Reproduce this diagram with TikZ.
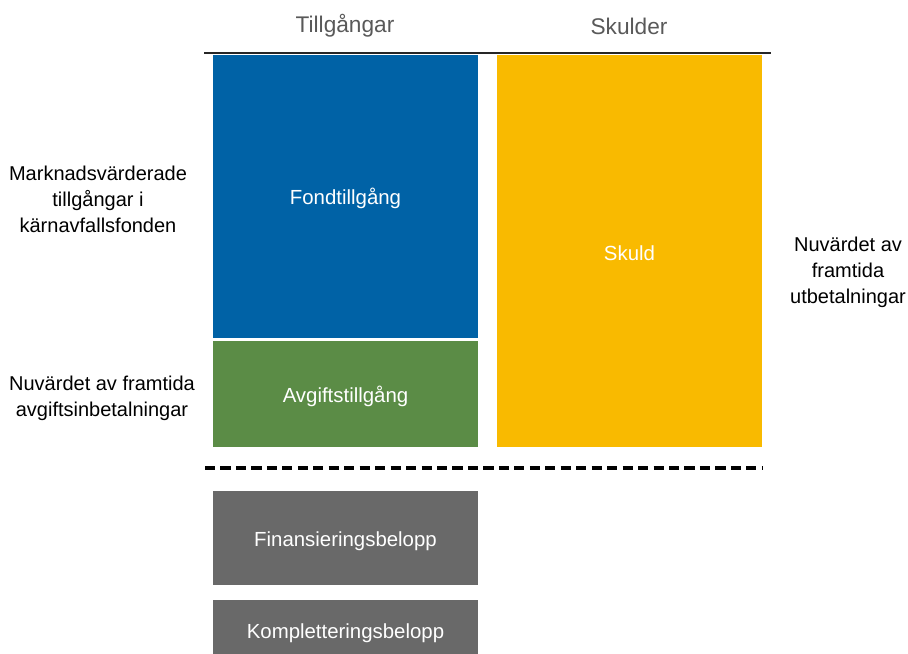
\documentclass[tikz,border=0pt]{standalone}
\usepackage{fontspec}
\setmainfont{Liberation Sans}
\definecolor{cblue}{RGB}{0,98,166}
\definecolor{cgreen}{RGB}{91,140,70}
\definecolor{cyellow}{RGB}{249,186,0}
\definecolor{cgray}{RGB}{105,105,105}
\definecolor{chead}{RGB}{89,89,89}
\begin{document}
\begin{tikzpicture}[x=0.75pt,y=-0.75pt,
  box/.style={draw=none,inner sep=0pt},
  intext/.style={text=white,font=\fontsize{15.3}{18}\selectfont},
  sidetext/.style={align=center,text=black,font=\fontsize{15}{19.5}\selectfont},
  head/.style={text=chead,font=\fontsize{17}{20}\selectfont}]
\useasboundingbox (0,0) rectangle (908,654);
% header
\node[head] (hA) at (345,26) {Tillgångar};
\node[head] (hS) at (629,26) {Skulder};
\coordinate (tl) at (204,53);
\coordinate (tr) at (771,53);
\draw[line width=1.5pt,black!85] (tl) -- (tr);
% boxes
\fill[cblue] (213,55) rectangle (478,338);
\fill[cgreen] (213,341) rectangle (478,447);
\fill[cyellow] (497,55) rectangle (762,447);
\fill[cgray] (213,491) rectangle (478,585);
\fill[cgray] (213,600) rectangle (478,654);
\node[intext] (fond) at (345.5,198) {Fondtillgång};
\node[intext] (avg) at (345.5,396) {Avgiftstillgång};
\node[intext] (skuld) at (629.5,253) {Skuld};
\node[intext] (fin) at (345.5,541) {Finansieringsbelopp};
\node[intext] (komp) at (345.5,633) {Kompletteringsbelopp};
% dashed line
\coordinate (dl) at (205,468);
\coordinate (dr) at (763,468);
\draw[line width=3pt,black,dash pattern=on 7.6pt off 4pt] (dl) -- (dr);
% side labels
\node[sidetext] (mv) at (98,199) {Marknadsvärderade\\tillgångar i\\kärnavfallsfonden};
\node[sidetext] (nf) at (102,398) {Nuvärdet av framtida\\avgiftsinbetalningar};
\node[sidetext] (nu) at (848,272) {Nuvärdet av\\framtida\\utbetalningar};
\end{tikzpicture}
\end{document}
